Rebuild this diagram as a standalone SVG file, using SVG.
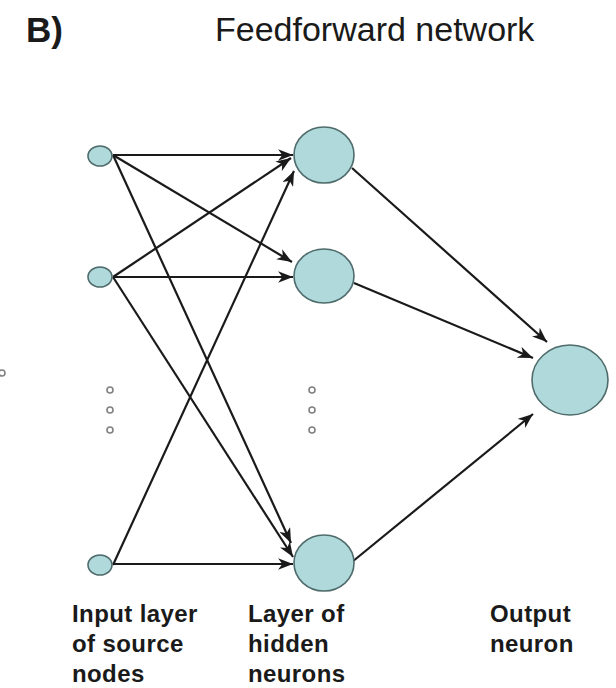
<svg xmlns="http://www.w3.org/2000/svg" width="616" height="688" viewBox="0 0 616 688">
<style>
.node{fill:#b0d9dc;stroke:#4f6b6b;stroke-width:1.6}
.dot{fill:#ffffff;stroke:#808080;stroke-width:1.6}
.edge{stroke:#1a1a1a;stroke-width:2.2;fill:none;marker-end:url(#arr)}
.lbl{font-family:"Liberation Sans",Arial,sans-serif;font-weight:bold;font-size:24px;letter-spacing:0.4px;fill:#1a1a1a}
.title{font-family:"Liberation Sans",Arial,sans-serif;font-size:34px;fill:#1a1a1a}
</style>
<defs>
<marker id="arr" markerUnits="userSpaceOnUse" markerWidth="16" markerHeight="12" refX="14" refY="5.5" orient="auto" viewBox="0 0 15 11">
<path d="M0,0 L14,5.5 L0,11 L4,5.5 z" fill="#1a1a1a"/>
</marker>
</defs>
<rect width="616" height="688" fill="#ffffff"/>
<text x="26" y="42" class="title" style="font-weight:bold;font-size:35px">B)</text>
<text x="215" y="41" class="title">Feedforward network</text>
<g id="connectors">
<line class="edge" x1="113" y1="155" x2="293" y2="155"/>
<line class="edge" x1="113" y1="277" x2="291" y2="158"/>
<line class="edge" x1="113" y1="565" x2="294" y2="171"/>
<line class="edge" x1="113" y1="155" x2="292" y2="262"/>
<line class="edge" x1="113" y1="277" x2="293" y2="277"/>
<line class="edge" x1="113" y1="155" x2="291" y2="543"/>
<line class="edge" x1="113" y1="277" x2="293" y2="557"/>
<line class="edge" x1="113" y1="564" x2="293" y2="564"/>
<line class="edge" x1="352" y1="168" x2="547" y2="342"/>
<line class="edge" x1="354" y1="283" x2="533" y2="358"/>
<line class="edge" x1="352" y1="562" x2="533" y2="414"/>
</g>
<g id="input1"><ellipse class="node" cx="100" cy="156" rx="12" ry="10"/></g>
<g id="input2"><ellipse class="node" cx="100" cy="277" rx="12" ry="10"/></g>
<g id="input3"><ellipse class="node" cx="100" cy="565" rx="12" ry="10"/></g>
<g id="hidden1"><ellipse class="node" cx="324" cy="155" rx="30" ry="28"/></g>
<g id="hidden2"><ellipse class="node" cx="324" cy="276" rx="30" ry="27"/></g>
<g id="hidden3"><ellipse class="node" cx="324" cy="563" rx="30" ry="28"/></g>
<g id="output"><ellipse class="node" cx="570" cy="380" rx="38" ry="35"/></g>
<g id="dots-input">
<circle class="dot" cx="110" cy="390" r="3"/>
<circle class="dot" cx="110" cy="410" r="3"/>
<circle class="dot" cx="110" cy="430" r="3"/>
</g>
<g id="dots-hidden">
<circle class="dot" cx="312" cy="390" r="3"/>
<circle class="dot" cx="312" cy="410" r="3"/>
<circle class="dot" cx="312" cy="430" r="3"/>
</g>
<circle class="dot" cx="2" cy="373" r="3"/>
<g id="label-input">
<text class="lbl" x="72" y="622">Input layer</text>
<text class="lbl" x="72" y="652">of source</text>
<text class="lbl" x="72" y="682">nodes</text>
</g>
<g id="label-hidden">
<text class="lbl" x="248" y="622">Layer of</text>
<text class="lbl" x="248" y="652">hidden</text>
<text class="lbl" x="248" y="682">neurons</text>
</g>
<g id="label-output">
<text class="lbl" x="490" y="622">Output</text>
<text class="lbl" x="490" y="652">neuron</text>
</g>
</svg>
